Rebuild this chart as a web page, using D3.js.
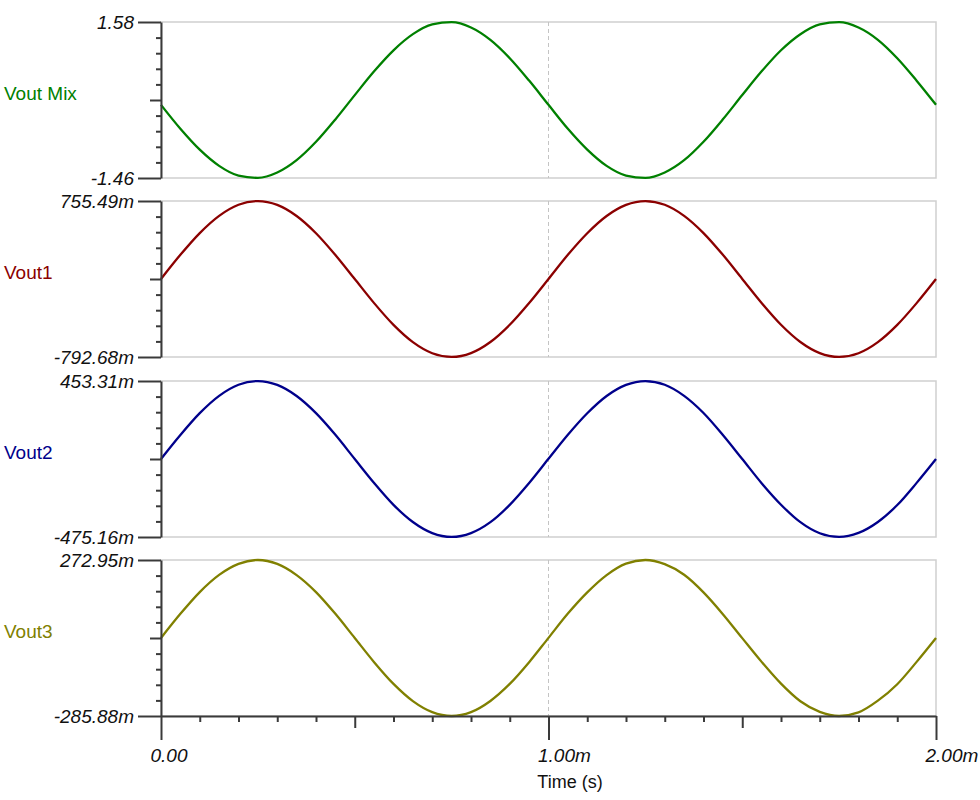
<!DOCTYPE html>
<html>
<head>
<meta charset="utf-8">
<script src="https://cdn.jsdelivr.net/npm/d3@7/dist/d3.min.js"></script>
<style>
  html, body { margin: 0; padding: 0; background: #ffffff; }
  svg { display: block; }
</style>
</head>
<body>
<svg id="chart" width="980" height="800"></svg>
<script>
// ---- Data (time in ms, values in volts) ----
const time = [0.00, 0.05, 0.10, 0.15, 0.20, 0.25, 0.30, 0.35, 0.40, 0.45,
              0.50, 0.55, 0.60, 0.65, 0.70, 0.75, 0.80, 0.85, 0.90, 0.95,
              1.00, 1.05, 1.10, 1.15, 1.20, 1.25, 1.30, 1.35, 1.40, 1.45,
              1.50, 1.55, 1.60, 1.65, 1.70, 1.75, 1.80, 1.85, 1.90, 1.95, 2.00];

const voutMix = [-0.035, -0.500, -0.908, -1.223, -1.413, -1.457, -1.353, -1.112, -0.755, -0.318,
                  0.155,  0.619,  1.028,  1.343,  1.533,  1.577,  1.474,  1.232,  0.875,  0.438,
                 -0.034, -0.501, -0.907, -1.224, -1.412, -1.458, -1.352, -1.113, -0.754, -0.317,
                  0.156,  0.618,  1.029,  1.342,  1.534,  1.578,  1.473,  1.233,  0.874,  0.437, -0.033];

const vout1 = [-0.019,  0.221,  0.437,  0.608,  0.718,  0.755,  0.717,  0.607,  0.436,  0.220,
               -0.019, -0.258, -0.474, -0.645, -0.755, -0.792, -0.754, -0.644, -0.473, -0.257,
               -0.018,  0.222,  0.436,  0.607,  0.717,  0.755,  0.718,  0.608,  0.437,  0.221,
               -0.018, -0.257, -0.473, -0.644, -0.754, -0.792, -0.755, -0.645, -0.474, -0.258, -0.019];

const vout2 = [-0.011,  0.132,  0.262,  0.365,  0.431,  0.453,  0.430,  0.364,  0.262,  0.133,
               -0.011, -0.154, -0.284, -0.386, -0.452, -0.475, -0.452, -0.387, -0.284, -0.154,
               -0.010,  0.133,  0.261,  0.364,  0.430,  0.453,  0.431,  0.365,  0.263,  0.132,
               -0.011, -0.155, -0.283, -0.387, -0.453, -0.475, -0.451, -0.386, -0.285, -0.153, -0.011];

const vout3 = [-0.0065,  0.080,  0.158,  0.2195,  0.259,  0.273,  0.259,  0.219,  0.158,  0.080,
               -0.0065, -0.093, -0.171, -0.2325, -0.272, -0.2859, -0.272, -0.232, -0.171, -0.093,
               -0.006,   0.081,  0.157,  0.219,   0.260,  0.273,  0.258,  0.220,  0.157,  0.079,
               -0.007,  -0.092, -0.170, -0.233,  -0.271, -0.2859, -0.273, -0.231, -0.172, -0.092, -0.0065];

const seriesNames = ["Vout Mix", "Vout1", "Vout2", "Vout3"];
const seriesValues = [voutMix, vout1, vout2, vout3];
const yMaxValues = [1.58, 0.75549, 0.45331, 0.27295];
const yMinValues = [-1.46, -0.79268, -0.47516, -0.28588];
const yMaxLabels = ["1.58", "755.49m", "453.31m", "272.95m"];
const yMinLabels = ["-1.46", "-792.68m", "-475.16m", "-285.88m"];
const xTickValues = [0, 1, 2];
const xTickLabels = ["0.00", "1.00m", "2.00m"];
const xMidTickValues = [0.5, 1.5];
const xMinorTickValues = [0.1, 0.2, 0.3, 0.4, 0.6, 0.7, 0.8, 0.9, 1.1, 1.2, 1.3, 1.4, 1.6, 1.7, 1.8, 1.9];
const xAxisTitle = "Time (s)";

// ---- Styles / layout ----
const colors = ["#008000", "#8b0000", "#00008b", "#808000"];
const FONT = "'Liberation Sans', Arial, Helvetica, sans-serif";
const FS = "19px";
const left = 161, right = 936;
const panelH = 156, firstTop = 22, panelStep = 179.33;
const axisColor = "#3a3a3a";

const svg = d3.select("#chart");
svg.append("rect").attr("width", 980).attr("height", 800).attr("fill", "#ffffff");

const x = d3.scaleLinear().domain([0, 2]).range([left, right]);

function styleAxis(g, keepDomain) {
  g.selectAll("line").attr("stroke", axisColor).attr("stroke-width", 2);
  if (keepDomain) {
    g.select(".domain").attr("stroke", axisColor).attr("stroke-width", 2);
  } else {
    g.select(".domain").remove();
  }
  g.selectAll("text")
    .attr("fill", "#111")
    .style("font-family", FONT)
    .style("font-size", FS)
    .style("font-style", "italic");
}

seriesNames.forEach((name, i) => {
  const top = Math.round(firstTop + i * panelStep);
  const bottom = top + panelH;
  const yMin = yMinValues[i], yMax = yMaxValues[i];
  const y = d3.scaleLinear().domain([yMin, yMax]).range([bottom, top]);
  const g = svg.append("g");

  // frame
  g.append("rect")
    .attr("x", left).attr("y", top)
    .attr("width", right - left).attr("height", panelH)
    .attr("fill", "none").attr("stroke", "#cfcfcf").attr("stroke-width", 1.5);

  // dashed marker at 1ms
  g.append("line")
    .attr("x1", x(1)).attr("x2", x(1))
    .attr("y1", top).attr("y2", bottom)
    .attr("stroke", "#c4c4c4").attr("stroke-width", 1)
    .attr("stroke-dasharray", "4,3");

  // series line
  const line = d3.line()
    .x((d, j) => x(time[j]))
    .y(d => y(d))
    .curve(d3.curveMonotoneX);
  g.append("path")
    .datum(seriesValues[i])
    .attr("d", line)
    .attr("fill", "none")
    .attr("stroke", colors[i])
    .attr("stroke-width", 2.3)
    .attr("stroke-linejoin", "round");

  // y axes: minor, mid, major
  const minorVals = [1, 2, 3, 4, 6, 7, 8, 9].map(k => yMin + k * (yMax - yMin) / 10);
  const gMinor = g.append("g").attr("transform", `translate(${left},0)`)
    .call(d3.axisLeft(y).tickValues(minorVals).tickSize(5).tickSizeOuter(0).tickFormat(""));
  styleAxis(gMinor, false);

  const gMid = g.append("g").attr("transform", `translate(${left},0)`)
    .call(d3.axisLeft(y).tickValues([(yMin + yMax) / 2]).tickSize(11).tickSizeOuter(0).tickFormat(""));
  styleAxis(gMid, false);

  const labels = [yMinLabels[i], yMaxLabels[i]];
  const gMajor = g.append("g").attr("transform", `translate(${left},0)`)
    .call(d3.axisLeft(y).tickValues([yMin, yMax]).tickSize(23).tickPadding(4).tickSizeOuter(0)
      .tickFormat((d, j) => labels[j]));
  styleAxis(gMajor, true);
  gMajor.selectAll("text").attr("dy", "0.36em");

  // series name
  svg.append("text")
    .attr("x", 4).attr("y", top + 78)
    .attr("fill", colors[i])
    .style("font-family", FONT)
    .style("font-size", FS)
    .text(name);

  // x axis under last panel
  if (i === seriesNames.length - 1) {
    const gxMinor = svg.append("g").attr("transform", `translate(0,${bottom})`)
      .call(d3.axisBottom(x).tickValues(xMinorTickValues).tickSize(6).tickSizeOuter(0).tickFormat(""));
    styleAxis(gxMinor, false);
    const gxMid = svg.append("g").attr("transform", `translate(0,${bottom})`)
      .call(d3.axisBottom(x).tickValues(xMidTickValues).tickSize(12).tickSizeOuter(0).tickFormat(""));
    styleAxis(gxMid, false);
    const gx = svg.append("g").attr("transform", `translate(0,${bottom})`)
      .call(d3.axisBottom(x).tickValues(xTickValues).tickSize(24).tickSizeOuter(0)
        .tickFormat((d, j) => xTickLabels[j]));
    styleAxis(gx, true);
    gx.selectAll("text")
      .attr("x", -11).attr("y", 46).attr("dy", 0)
      .attr("text-anchor", "start");

    svg.append("text")
      .attr("x", 570).attr("y", 788)
      .attr("text-anchor", "middle")
      .attr("fill", "#111")
      .style("font-family", FONT)
      .style("font-size", "18px")
      .text(xAxisTitle);
  }
});
</script>
</body>
</html>
